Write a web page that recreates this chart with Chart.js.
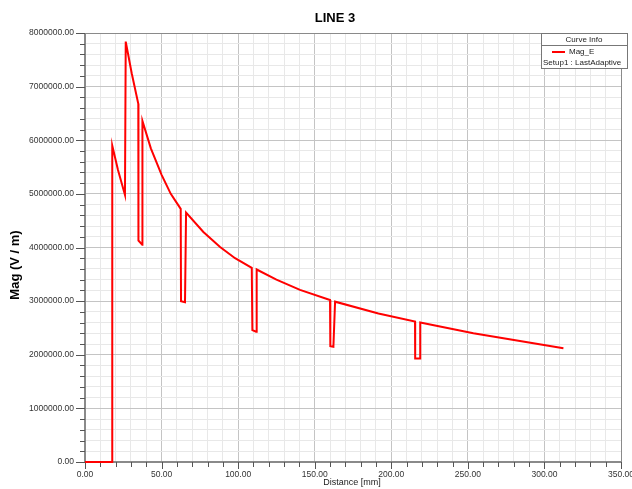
<!DOCTYPE html>
<html>
<head>
<meta charset="utf-8">
<script src="https://cdn.jsdelivr.net/npm/chart.js@4.4.1/dist/chart.umd.min.js"></script>
<style>
  body { margin: 0; background: #fff; }
  #wrap { width: 632px; height: 489px; position: relative; }
</style>
</head>
<body>
<div id="wrap"><canvas id="myChart"></canvas></div>
<script>
// values
const distance = [0, 17.8, 17.8, 21.5, 26.1, 26.6, 30.5, 34.8, 34.9, 37.4, 37.5, 43, 50.1, 56, 62.5, 62.7, 65.3, 66.0, 77.3, 88.2, 98, 108.9, 109.3, 111.7, 112.1, 125, 140.4, 160.0, 160.2, 162.2, 163.3, 191.6, 215.5, 215.6, 218.8, 218.9, 253.6, 285, 312.4]
const magE = [0, 0, 5900000, 5450000, 4980000, 7840000, 7250000, 6680000, 4130000, 4050000, 6360000, 5850000, 5350000, 5000000, 4720000, 3000000, 2980000, 4650000, 4290000, 4010000, 3800000, 3620000, 2460000, 2430000, 3590000, 3400000, 3210000, 3020000, 2160000, 2150000, 2990000, 2770000, 2620000, 1930000, 1930000, 2600000, 2400000, 2250000, 2120000]

const xTicks = { min: 0, max: 350, major: 50, minor: 10 }
const yTicks = { min: 0, max: 8000000, major: 1000000, minor: 200000 }

const points = distance.map((d, i) => ({ x: d, y: magE[i] }))

const majorGrid = '#c4c4c4'
const minorGrid = '#e8e8e8'
const axisColor = '#8a8a8a'
const fontFam = '"Liberation Sans", Arial, sans-serif'

const decor = {
    id: 'decor',
    beforeDatasetsDraw(chart) {
        const c = chart.ctx
        const a = chart.chartArea
        const xs = chart.scales.x
        const ys = chart.scales.y
        c.save()
        // frame
        c.strokeStyle = axisColor
        c.lineWidth = 1
        c.strokeRect(a.left + 0.5, a.top + 0.5, a.right - a.left, a.bottom - a.top)
        c.lineWidth = 2
        c.beginPath()
        c.moveTo(a.left, a.top)
        c.lineTo(a.left, a.bottom)
        c.lineTo(a.right, a.bottom)
        c.stroke()
        // tick marks
        c.lineWidth = 1
        c.strokeStyle = '#555'
        c.beginPath()
        for (let v = xTicks.min; v <= xTicks.max; v += xTicks.minor) {
            const px = Math.round(xs.getPixelForValue(v)) + 0.5
            const len = v % xTicks.major === 0 ? 7 : 5
            c.moveTo(px, a.bottom)
            c.lineTo(px, a.bottom + len)
        }
        for (let v = yTicks.min; v <= yTicks.max; v += yTicks.minor) {
            const py = Math.round(ys.getPixelForValue(v)) + 0.5
            const len = v % yTicks.major === 0 ? 9 : 5
            c.moveTo(a.left, py)
            c.lineTo(a.left - len, py)
        }
        c.stroke()
        c.restore()
    },
    afterDraw(chart) {
        const c = chart.ctx
        c.save()
        // titles
        c.fillStyle = '#000'
        c.textAlign = 'center'
        c.textBaseline = 'middle'
        c.font = 'bold 13px ' + fontFam
        c.fillText('LINE 3', 335, 18)
        c.save()
        c.translate(15, 265)
        c.rotate(-Math.PI / 2)
        c.font = 'bold 13px ' + fontFam
        c.fillText('Mag (V / m)', 0, 0)
        c.restore()
        c.font = '9px ' + fontFam
        c.fillStyle = '#222'
        c.fillText('Distance [mm]', 352, 483)
        // legend box
        const lx = 541, ly = 33, lw = 86, lh = 35
        c.fillStyle = '#fff'
        c.fillRect(lx, ly, lw, lh)
        c.strokeStyle = '#777'
        c.lineWidth = 1
        c.strokeRect(lx + 0.5, ly + 0.5, lw, lh)
        c.beginPath()
        c.moveTo(lx, ly + 12.5)
        c.lineTo(lx + lw, ly + 12.5)
        c.stroke()
        c.fillStyle = '#222'
        c.font = '8px ' + fontFam
        c.fillText('Curve Info', lx + lw / 2, ly + 6.5)
        c.strokeStyle = '#ff0000'
        c.lineWidth = 2
        c.beginPath()
        c.moveTo(552, 52)
        c.lineTo(565, 52)
        c.stroke()
        c.textAlign = 'left'
        c.fillText('Mag_E', 569, 52)
        c.fillText('Setup1 : LastAdaptive', 543, 63)
        c.restore()
    }
}

var ctx = document.getElementById('myChart').getContext('2d');
var myChart = new Chart(ctx, {
    type: 'scatter',
    data: {
        datasets: [{
            label: 'Mag_E',
            data: points,
            showLine: true,
            borderColor: '#ff0000',
            backgroundColor: '#ff0000',
            borderWidth: 2,
            pointRadius: 0,
            tension: 0,
            clip: 4
        }]
    },
    options: {
        responsive: true,
        maintainAspectRatio: false,
        animation: false,
        layout: { padding: { left: 0, top: 33, right: 11, bottom: 0 } },
        plugins: {
            legend: { display: false },
            title: { display: false },
            tooltip: { enabled: false }
        },
        scales: {
            x: {
                type: 'linear',
                min: xTicks.min,
                max: xTicks.max,
                afterFit: s => { s.height = 27; s.paddingLeft = 0; s.paddingRight = 0 },
                border: { display: false },
                grid: {
                    drawTicks: false,
                    color: c => c.tick && c.tick.value % xTicks.major === 0 ? majorGrid : minorGrid
                },
                ticks: {
                    stepSize: xTicks.minor,
                    autoSkip: false,
                    maxRotation: 0,
                    padding: 8,
                    color: '#333',
                    font: { family: fontFam, size: 8.5 },
                    callback: v => v % xTicks.major === 0 ? v.toFixed(2) : ''
                }
            },
            y: {
                min: yTicks.min,
                max: yTicks.max,
                afterFit: s => { s.width = 85; s.paddingTop = 0; s.paddingBottom = 0 },
                border: { display: false },
                grid: {
                    drawTicks: false,
                    color: c => c.tick && c.tick.value % yTicks.major === 0 ? majorGrid : minorGrid
                },
                ticks: {
                    stepSize: yTicks.minor,
                    autoSkip: false,
                    padding: 11,
                    color: '#333',
                    font: { family: fontFam, size: 8.5 },
                    callback: v => v % yTicks.major === 0 ? v.toFixed(2) : ''
                }
            }
        }
    },
    plugins: [decor]
});
</script>
</body>
</html>
